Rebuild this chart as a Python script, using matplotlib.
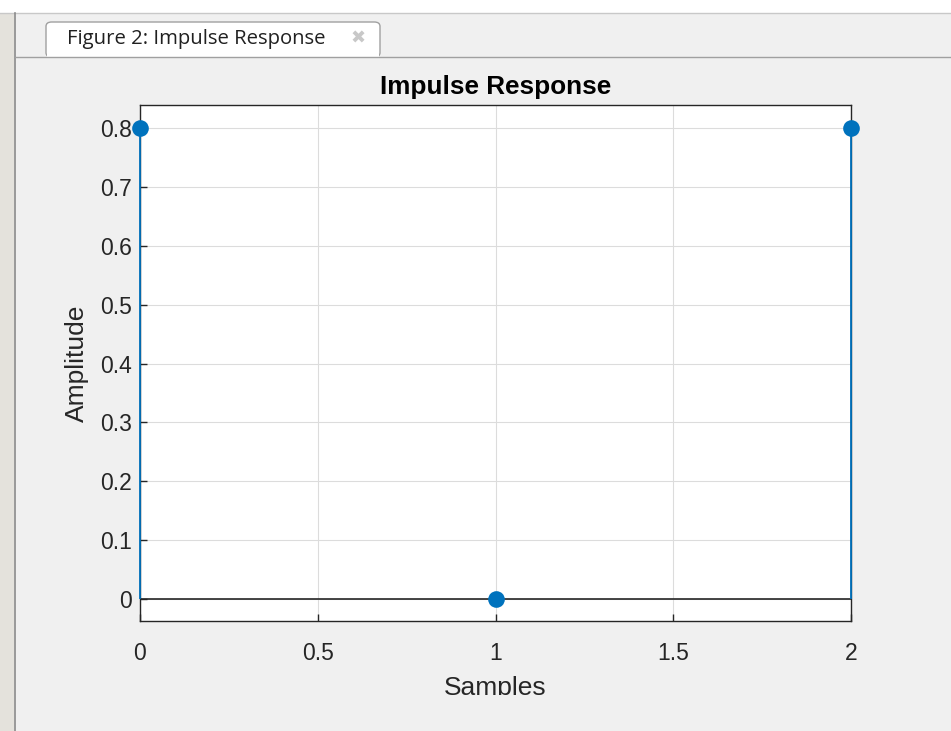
import matplotlib
matplotlib.use("Agg")
import matplotlib.pyplot as plt
from matplotlib.patches import FancyBboxPatch, Rectangle
from matplotlib.lines import Line2D
from matplotlib.transforms import Bbox, TransformedBbox

samples = [0, 1, 2]
amplitude = [0.8, 0.0, 0.8]
xticks = [0, 0.5, 1, 1.5, 2]
xticklabels = ["0", "0.5", "1", "1.5", "2"]
yticks = [0, 0.1, 0.2, 0.3, 0.4, 0.5, 0.6, 0.7, 0.8]
yticklabels = ["0", "0.1", "0.2", "0.3", "0.4", "0.5", "0.6", "0.7", "0.8"]

plt.rcParams['font.family'] = ['Liberation Sans', 'DejaVu Sans']
W, H = 951, 731
fig = plt.figure(figsize=(W/100, H/100), dpi=100, facecolor='#f0f0f0')

def fx(px): return px / W
def fy(py): return 1 - py / H

# window chrome
fig.patches.append(Rectangle((0, fy(13)), 1, 13/H, transform=fig.transFigure, facecolor='white', edgecolor='none'))
fig.lines.append(Line2D([0, 1], [fy(13), fy(13)], transform=fig.transFigure, color='#c8c8c8', lw=1))
fig.patches.append(Rectangle((0, 0), fx(14), fy(13), transform=fig.transFigure, facecolor='#e4e2dc', edgecolor='none'))
fig.lines.append(Line2D([fx(15), fx(15)], [0, fy(13)], transform=fig.transFigure, color='#8a8a8a', lw=1.2))
fig.lines.append(Line2D([fx(15), 1], [fy(57), fy(57)], transform=fig.transFigure, color='#a0a0a0', lw=1))
tab = FancyBboxPatch((fx(46), fy(57)), fx(380) - fx(46), 35/H, boxstyle="round,pad=0,rounding_size=0.006",
                     transform=fig.transFigure, facecolor='white', edgecolor='#a0a0a0', lw=1)
fig.patches.append(tab)
fig.patches.append(Rectangle((fx(47), fy(58)), fx(379) - fx(47), 4/H, transform=fig.transFigure, facecolor='white', edgecolor='none'))
fig.text(fx(67), fy(39), "Figure 2: Impulse Response", fontsize=14.6, family=['Open Sans', 'DejaVu Sans'],
         color='#202020', va='center', ha='left')
fig.text(fx(358), fy(39), "\u2716", fontsize=13, color='#c8c8c8', va='center', ha='center', family=['DejaVu Sans'])

ax = fig.add_axes([fx(140), fy(621), fx(851) - fx(140), (621 - 105) / H])
ax.set_facecolor('white')
ml, sl, bl = ax.stem(samples, amplitude, basefmt='k-')
plt.setp(sl, color='#0072BD', lw=1.3)
plt.setp(ml, color='#0072BD', markersize=12, markeredgewidth=0)
plt.setp(bl, color='#262626', lw=1.2)
ml.set_clip_on(False)
sl.set_clip_on(False)
sl.set_zorder(3)
ml.set_zorder(4)
ax.set_xlim(0, 2)
ax.set_ylim(-0.037, 0.839)
ax.set_xticks(xticks, xticklabels)
ax.set_yticks(yticks, yticklabels)
ax.grid(True, color='#dcdcdc', lw=0.8)
ax.set_axisbelow(True)
ax.tick_params(direction='in', length=5, labelsize=16.5, colors='#262626', width=1)
ax.tick_params(axis='x', pad=15)
ax.tick_params(axis='y', pad=6)
for s in ax.spines.values():
    s.set_color('#262626')
    s.set_linewidth(1)
    s.set_zorder(2.5)
ax.set_title("Impulse Response", fontsize=18.8, fontweight='bold', color='black', pad=8)
xl = ax.set_xlabel("Samples", fontsize=19, color='#262626', labelpad=8)
ax.set_ylabel("Amplitude", fontsize=19, color='#262626', labelpad=8)
xl.set_clip_box(TransformedBbox(Bbox([[0, fy(695)], [1, 1]]), fig.transFigure))
xl.set_clip_on(True)

fig.savefig("out.png", dpi=100, facecolor=fig.get_facecolor())
